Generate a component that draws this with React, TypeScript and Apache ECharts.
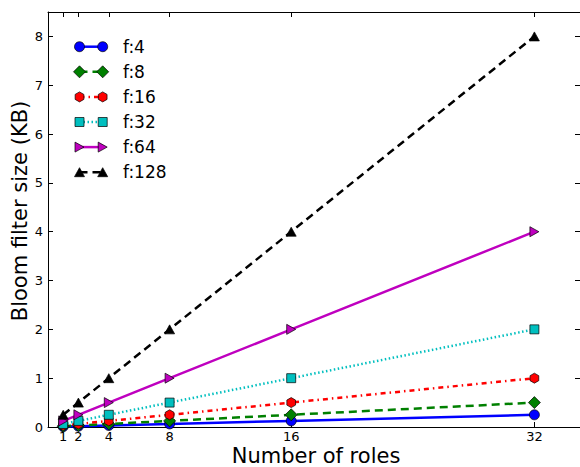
import React, { useEffect, useRef } from "react";
import * as echarts from "echarts";

const roles = [1, 2, 4, 8, 16, 32];
const xTicks = [1, 2, 4, 8, 16, 32];
const yTicks = [0, 1, 2, 3, 4, 5, 6, 7, 8];
const seriesNames = ["f:4", "f:8", "f:16", "f:32", "f:64", "f:128"];
const f4 = [0.0078125, 0.015625, 0.03125, 0.0625, 0.125, 0.25];
const f8 = [0.015625, 0.03125, 0.0625, 0.125, 0.25, 0.5];
const f16 = [0.03125, 0.0625, 0.125, 0.25, 0.5, 1];
const f32 = [0.0625, 0.125, 0.25, 0.5, 1, 2];
const f64 = [0.125, 0.25, 0.5, 1, 2, 4];
const f128 = [0.25, 0.5, 1, 2, 4, 8];
const seriesValues = [f4, f8, f16, f32, f64, f128];

const colors = ["#0000ff", "#008000", "#ff0000", "#00bfbf", "#bf00bf", "#000000"];
const dashes: (number[] | "solid")[] = ["solid", [8, 5], [5, 4, 1.5, 4], [1.5, 2.5], "solid", [8, 5]];
const hexPath = "path://M0,-1 L0.866,-0.5 L0.866,0.5 L0,1 L-0.866,0.5 L-0.866,-0.5 Z";
const triRight = "path://M0,0 L1,0.5 L0,1 Z";
const triUp = "path://M0.5,0 L1,1 L0,1 Z";
const symbols = ["circle", "diamond", hexPath, "rect", triRight, triUp];
const symbolSizes: (number | number[])[] = [10, 12, [8.7, 10], 9, [9, 10], [10, 9]];

const FONT = "DejaVu Sans";

function markerShape(i: number, cx: number, cy: number) {
  const style = { fill: colors[i], stroke: "#000", lineWidth: 0.7 };
  if (i === 0) return { type: "circle", shape: { cx, cy, r: 5 }, style };
  if (i === 3) return { type: "rect", shape: { x: cx - 4.5, y: cy - 4.5, width: 9, height: 9 }, style };
  let pts: number[][] = [];
  if (i === 1) pts = [[cx, cy - 6], [cx + 6, cy], [cx, cy + 6], [cx - 6, cy]];
  if (i === 2) pts = [[cx, cy - 5], [cx + 4.35, cy - 2.5], [cx + 4.35, cy + 2.5], [cx, cy + 5], [cx - 4.35, cy + 2.5], [cx - 4.35, cy - 2.5]];
  if (i === 4) pts = [[cx - 4.5, cy - 5], [cx + 4.5, cy], [cx - 4.5, cy + 5]];
  if (i === 5) pts = [[cx, cy - 4.5], [cx + 5, cy + 4.5], [cx - 5, cy + 4.5]];
  return { type: "polygon", shape: { points: pts }, style };
}

export default function App() {
  const ref = useRef<HTMLDivElement>(null);
  useEffect(() => {
    if (!ref.current) return;
    const chart = echarts.init(ref.current, undefined, { renderer: "svg" });
    const legend: any[] = [];
    seriesNames.forEach((name, i) => {
      const cy = 46.7 + i * 25.1;
      legend.push({
        type: "line",
        shape: { x1: 79.5, y1: cy, x2: 102.7, y2: cy },
        style: { stroke: colors[i], lineWidth: 2.5, lineDash: dashes[i] === "solid" ? null : dashes[i] },
        z: 100,
      });
      legend.push({ ...markerShape(i, 79.5, cy), z: 101 });
      legend.push({ ...markerShape(i, 102.7, cy), z: 101 });
      legend.push({
        type: "text",
        x: 123,
        y: cy,
        style: { text: name, font: `17px '${FONT}'`, fill: "#000", verticalAlign: "middle", align: "left" },
        z: 101,
      });
    });
    legend.push({
      type: "text",
      x: 316,
      y: 456.3,
      style: { text: "Number of roles", font: `21px '${FONT}'`, fill: "#000", align: "center", verticalAlign: "middle" },
    });
    legend.push({
      type: "text",
      x: 20,
      y: 211,
      rotation: Math.PI / 2,
      style: { text: "Bloom filter size (KB)", font: `21px '${FONT}'`, fill: "#000", align: "center", verticalAlign: "middle" },
    });

    const tickCommon = { show: true, inside: true, length: 5, lineStyle: { color: "#000", width: 1 } };
    const lineCommon = { show: true, onZero: false, lineStyle: { color: "#000", width: 1 } };

    chart.setOption({
      animation: false,
      backgroundColor: "#fff",
      grid: { left: 48, top: 12, width: 536, height: 415, containLabel: false },
      xAxis: [
        {
          type: "value", min: 0, max: 35, position: "bottom",
          axisLine: lineCommon,
          axisTick: { ...tickCommon, customValues: xTicks },
          axisLabel: { customValues: xTicks, color: "#000", fontFamily: FONT, fontSize: 13, margin: 3 },
          splitLine: { show: false },
        },
        {
          type: "value", min: 0, max: 35, position: "top",
          axisLine: lineCommon,
          axisTick: { ...tickCommon, customValues: xTicks },
          axisLabel: { show: false },
          splitLine: { show: false },
        },
      ],
      yAxis: [
        {
          type: "value", min: 0, max: 8.5, position: "left",
          axisLine: lineCommon,
          axisTick: { ...tickCommon, customValues: yTicks },
          axisLabel: { customValues: yTicks, color: "#000", fontFamily: FONT, fontSize: 13, margin: 5 },
          splitLine: { show: false },
        },
        {
          type: "value", min: 0, max: 8.5, position: "right",
          axisLine: lineCommon,
          axisTick: { ...tickCommon, customValues: yTicks },
          axisLabel: { show: false },
          splitLine: { show: false },
        },
      ],
      series: seriesNames.map((name, i) => ({
        name,
        type: "line",
        xAxisIndex: 0,
        yAxisIndex: 0,
        data: roles.map((r, j) => [r, seriesValues[i][j]]),
        symbol: symbols[i],
        symbolSize: symbolSizes[i],
        showAllSymbol: true,
        clip: true,
        lineStyle: { color: colors[i], width: 2.5, type: dashes[i], cap: "butt" },
        itemStyle: { color: colors[i], borderColor: "#000", borderWidth: 0.7 },
        z: 2 + i,
      })),
      graphic: legend,
    });
    return () => chart.dispose();
  }, []);
  return <div ref={ref} style={{ position: "absolute", left: 0, top: 0, width: 580, height: 467 }} />;
}
